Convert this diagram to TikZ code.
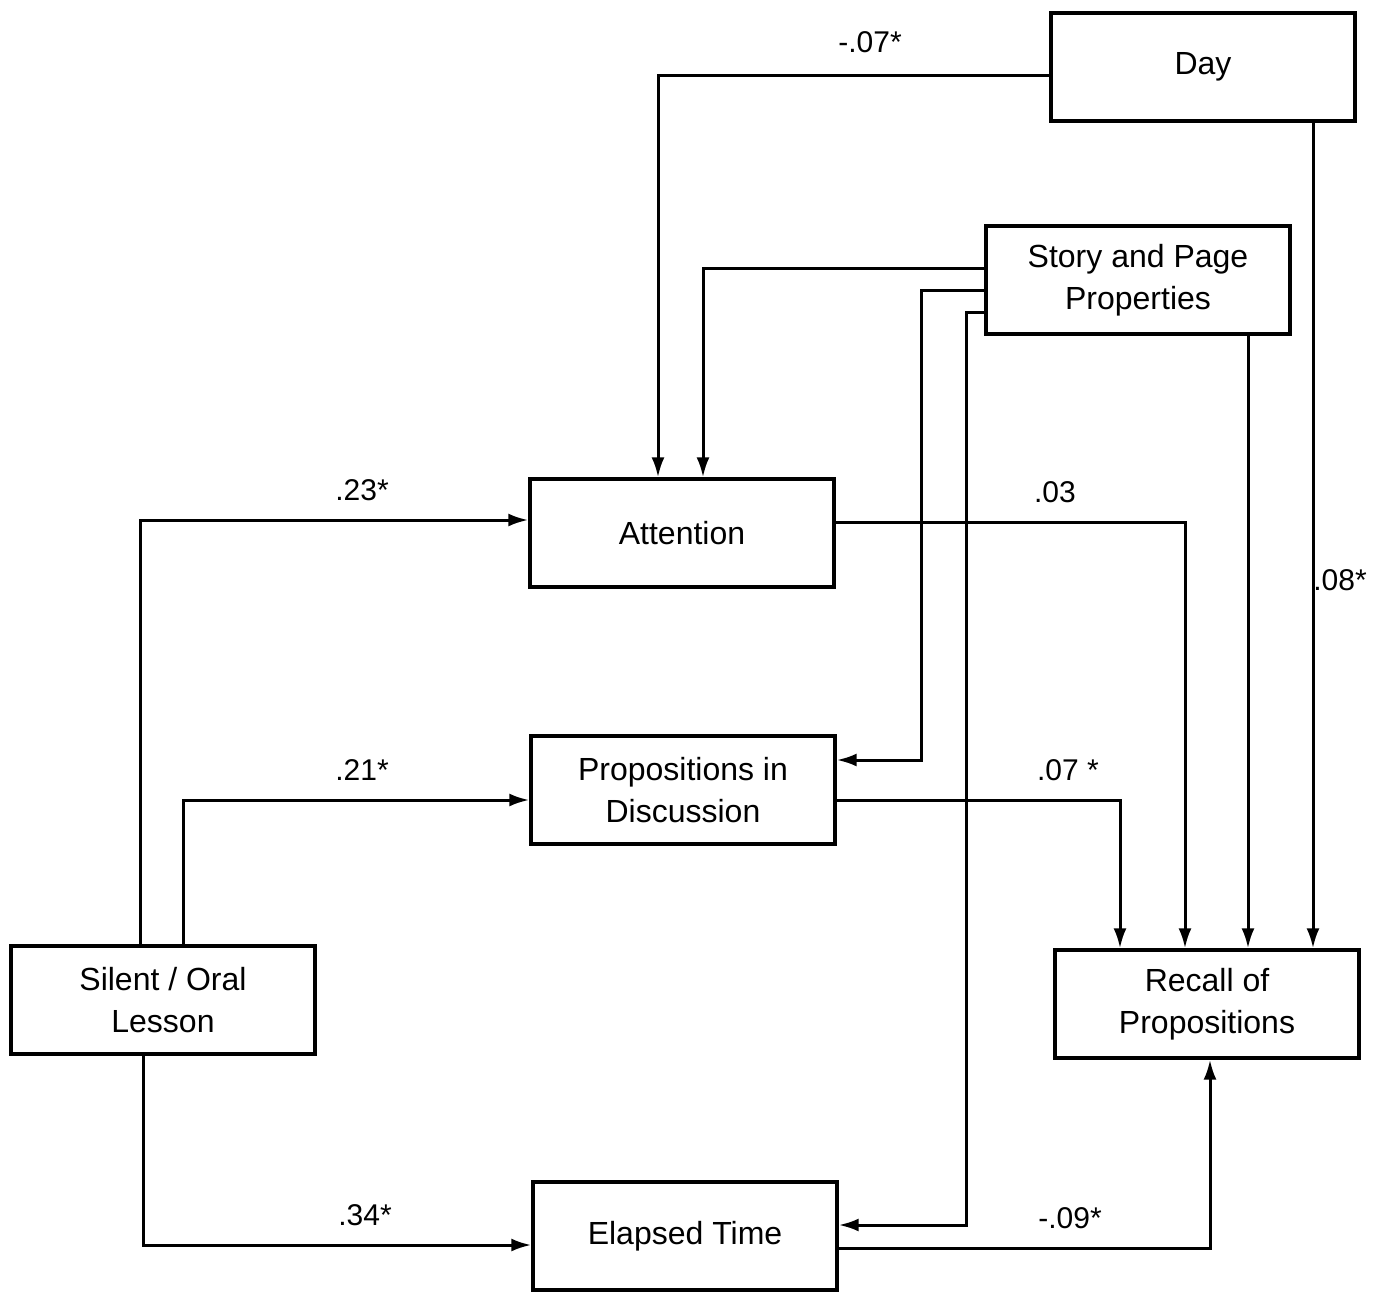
\documentclass[tikz,border=0pt]{standalone}
\usepackage{fontspec}
\setmainfont{Liberation Sans}
\usetikzlibrary{arrows.meta}

\tikzset{
  box/.style={draw, line width=1.7pt, minimum width=152pt, minimum height=54pt,
    inner sep=0pt, align=center, font=\fontsize{16}{21}\selectfont},
  link/.style={line width=1.5pt, -{Latex[length=10pt,width=6.5pt]}},
  coef/.style={font=\fontsize{15}{18}\selectfont, inner sep=1pt}
}

\begin{document}
\begin{tikzpicture}[x=0.5pt,y=-0.5pt]
\useasboundingbox (0,0) rectangle (1378,1292);
% boxes
\node[box] (day) at (1203,67) {Day};
\node[box] (story) at (1138,280) {Story and Page\\Properties};
\node[box] (att) at (682,533) {Attention};
\node[box] (prop) at (683,790) {Propositions in\\Discussion};
\node[box] (sil) at (163,1000) {Silent / Oral\\Lesson};
\node[box] (rec) at (1207,1004) {Recall of\\Propositions};
\node[box] (elap) at (685,1236) {Elapsed Time};
% paths out of Day
\draw[link] (day.west |- 0,75) -| (att.north -| 658,0);
\draw[link] (day.south -| 1313,0) -- (rec.north -| 1313,0);
% paths out of Story and Page Properties
\draw[link] (story.west |- 0,268) -| (att.north -| 703,0);
\draw[link] (story.west |- 0,290) -| (921,760) -- (prop.east |- 0,760);
\draw[link] (story.west |- 0,312) -| (966,1225) -- (elap.east |- 0,1225);
\draw[link] (story.south -| 1248,0) -- (rec.north -| 1248,0);
% paths into Recall
\draw[link] (att.east |- 0,522) -| (rec.north -| 1185,0);
\draw[link] (prop.east |- 0,800) -| (rec.north -| 1120,0);
\draw[link] (elap.east |- 0,1248) -| (rec.south -| 1210,0);
% paths out of Silent / Oral Lesson
\draw[link] (sil.north -| 140,0) |- (att.west |- 0,520);
\draw[link] (sil.north -| 183,0) |- (prop.west |- 0,800);
\draw[link] (sil.south -| 143,0) |- (elap.west |- 0,1245);
% coefficients
\node[coef] (cDay) at (870,42) {-.07*};
\node[coef] (cDayRec) at (1340,580) {.08*};
\node[coef] (cAtt) at (1055,492) {.03};
\node[coef] (cProp) at (1068,770) {.07 *};
\node[coef] (cElap) at (1070,1218) {-.09*};
\node[coef] (cSilAtt) at (362,490) {.23*};
\node[coef] (cSilProp) at (362,770) {.21*};
\node[coef] (cSilElap) at (365,1215) {.34*};
\end{tikzpicture}
\end{document}
